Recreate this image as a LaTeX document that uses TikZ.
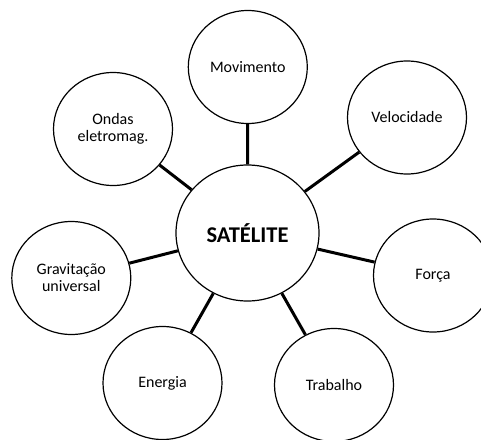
\documentclass[tikz,border=0pt]{standalone}
\usepackage{fontspec}
\setmainfont{Carlito}
\usetikzlibrary{shapes.geometric}
\begin{document}
\begin{tikzpicture}[x=1pt,y=-1pt,
  topic/.style={ellipse, draw=black, line width=1.2pt, fill=white, inner sep=0pt,
    minimum width=119pt, minimum height=113pt, align=center,
    font=\fontsize{16}{17}\selectfont},
  hub/.style={ellipse, draw=black, line width=1.2pt, fill=white, inner sep=0pt,
    minimum width=143pt, minimum height=136pt,
    font=\fontsize{22.5}{24}\selectfont\bfseries},
  link/.style={line width=3pt, black}]
\useasboundingbox (0,0) rectangle (481,439);
\node[hub] (c) at (247.5,233) {SATÉLITE};
\node[topic] (mov) at (247.8,67) {Movimento};
\node[topic] (vel) at (407,117.5) {Velocidade};
\node[topic] (ond) at (113,129) {Ondas\\eletromag.};
\node[topic] (gra) at (71.3,278) {Gravitação\\universal};
\node[topic] (for) at (433,275.5) {Força};
\node[topic] (ene) at (162.5,383) {Energia};
\node[topic] (tra) at (334,385) {Trabalho};
\foreach \n in {mov,vel,ond,gra,for,ene,tra}
  \draw[link] (c) -- (\n);
\end{tikzpicture}
\end{document}
